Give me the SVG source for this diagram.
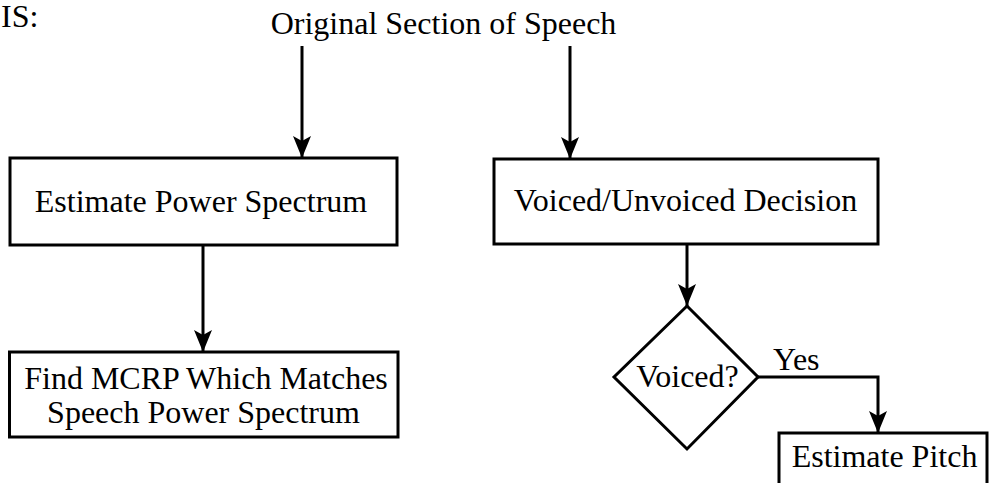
<svg xmlns="http://www.w3.org/2000/svg" width="989" height="483" viewBox="0 0 989 483">
  <style>
    .box { fill: #fff; stroke: #000; stroke-width: 3; }
    .link { fill: none; stroke: #000; stroke-width: 3; }
    text { font-size: 32px; fill: #000; }
    .c { text-anchor: middle; }
  </style>
  <defs>
    <marker id="arrow" viewBox="0 0 22 18" refX="22" refY="9" markerWidth="22" markerHeight="18" markerUnits="userSpaceOnUse" orient="auto">
      <path d="M0,0 L22,9 L0,18 L5,9 Z" fill="#000"/>
    </marker>
  </defs>

  <rect width="989" height="483" fill="#fff"/>

  <g font-family="'Liberation Serif', 'DejaVu Serif', serif">
    <g id="labels">
      <text x="1" y="27">IS:</text>
      <text class="c" x="443.5" y="34">Original Section of Speech</text>
      <text x="773" y="370">Yes</text>
    </g>

    <g id="connectors">
      <path class="link" d="M302,46 V158" marker-end="url(#arrow)"/>
      <path class="link" d="M570,46 V159" marker-end="url(#arrow)"/>
      <path class="link" d="M203,245 V352" marker-end="url(#arrow)"/>
      <path class="link" d="M687,244 V306" marker-end="url(#arrow)"/>
      <path class="link" d="M758,377 H878 V433" marker-end="url(#arrow)"/>
    </g>

    <g id="estimate-power">
      <rect class="box" x="10" y="158" width="387" height="87"/>
      <text class="c" x="201" y="212">Estimate Power Spectrum</text>
    </g>

    <g id="voicing-decision">
      <rect class="box" x="494" y="159" width="384" height="85"/>
      <text class="c" x="685.5" y="211">Voiced/Unvoiced Decision</text>
    </g>

    <g id="find-mcrp">
      <rect class="box" x="9.5" y="352" width="388.5" height="85"/>
      <text class="c" x="206" y="389">Find MCRP Which Matches</text>
      <text class="c" x="203.5" y="423">Speech Power Spectrum</text>
    </g>

    <g id="voiced-check">
      <polygon class="box" points="687,306 758,377 687,449 614,377"/>
      <text class="c" x="687.5" y="387">Voiced?</text>
    </g>

    <g id="estimate-pitch">
      <rect class="box" x="779" y="433" width="208" height="60"/>
      <text class="c" x="884.5" y="467">Estimate Pitch</text>
    </g>
  </g>
</svg>
